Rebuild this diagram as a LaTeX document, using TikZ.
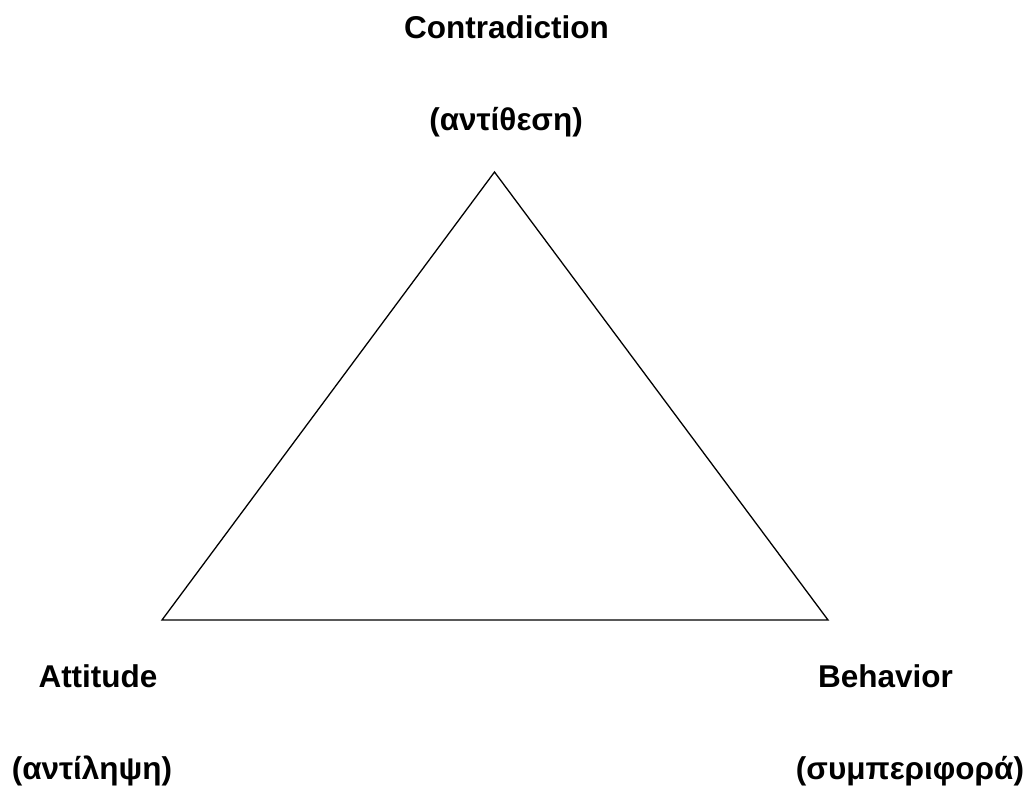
\documentclass[tikz,border=0pt]{standalone}
\usepackage{fontspec}
\setmainfont{Liberation Sans}
\begin{document}
\begin{tikzpicture}[x=1pt,y=-1pt,
  lbl/.style={font=\bfseries\fontsize{31.5}{36}\selectfont, inner sep=0pt, anchor=base},
  edge/.style={draw=black, line width=1.3pt, line join=miter}]
\useasboundingbox (0,0) rectangle (1030,787);
\coordinate (T) at (494.5,172);
\coordinate (L) at (162,620);
\coordinate (R) at (828,620);
\draw[edge] (T) -- (L) -- (R) -- cycle;
\node[lbl] (c1) at (506.5,38) {Contradiction};
\node[lbl] (c2) at (506,130) {(αντίθεση)};
\node[lbl] (a1) at (98,687) {Attitude};
\node[lbl] (a2) at (92,779) {(αντίληψη)};
\node[lbl] (b1) at (885.5,687) {Behavior};
\node[lbl] (b2) at (910,779) {(συμπεριφορά)};
\end{tikzpicture}
\end{document}
